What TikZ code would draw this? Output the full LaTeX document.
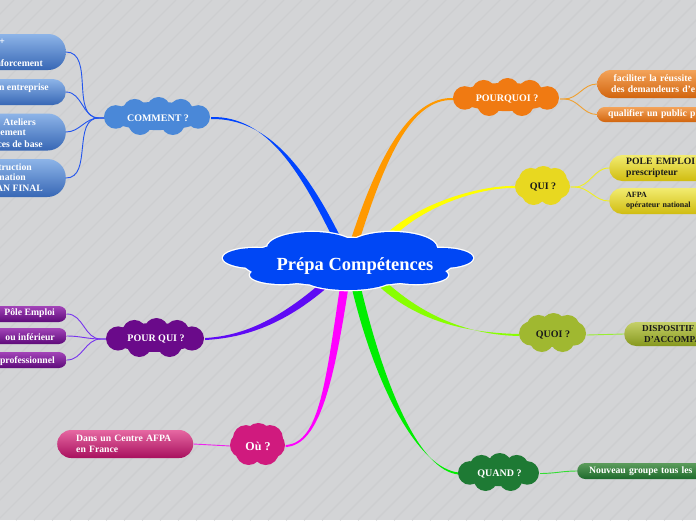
\documentclass[tikz,border=0pt]{standalone}
\usepackage{fontspec}
\setmainfont{Liberation Serif}
\usetikzlibrary{calc,shapes.geometric}
\pgfdeclarelayer{back}
\pgfsetlayers{back,main}
\definecolor{bgc}{HTML}{D3D4D6}
\definecolor{stripec}{HTML}{CDCED0}
\definecolor{rootc}{HTML}{0047F5}
\definecolor{commentc}{HTML}{4A88D8}
\definecolor{pourquic}{HTML}{6A0A8A}
\definecolor{ouc}{HTML}{D01A7E}
\definecolor{pourquoic}{HTML}{F07A12}
\definecolor{quic}{HTML}{E8D820}
\definecolor{quoic}{HTML}{A0B830}
\definecolor{quandc}{HTML}{1E7A34}
\definecolor{darktext}{HTML}{1A1A1A}
% branch colours
\definecolor{brblue}{HTML}{0044FF}
\definecolor{brorange}{HTML}{FF9900}
\definecolor{bryellow}{HTML}{FFFF00}
\definecolor{brlgreen}{HTML}{88FF00}
\definecolor{brgreen}{HTML}{00EE00}
\definecolor{brmagenta}{HTML}{FF00FF}
\definecolor{brpurple}{HTML}{5F0AF5}
% link colours
\definecolor{lkblue}{HTML}{2255EE}
\definecolor{lkpurple}{HTML}{7733EE}
\definecolor{lkmagenta}{HTML}{EE22EE}
\definecolor{lkorange}{HTML}{F0A030}
\definecolor{lkyellow}{HTML}{F0F020}
\definecolor{lklgreen}{HTML}{99EE33}
\definecolor{lkgreen}{HTML}{33DD33}
% leaf colours
\definecolor{blt}{HTML}{8DB4E8}\definecolor{blb}{HTML}{3767B5}
\definecolor{put}{HTML}{A244B8}\definecolor{pub}{HTML}{5E0A7A}
\definecolor{pkt}{HTML}{E668A2}\definecolor{pkb}{HTML}{A8105E}
\definecolor{ort}{HTML}{F3A35A}\definecolor{orb}{HTML}{D2650E}
\definecolor{yet}{HTML}{F2EC70}\definecolor{yeb}{HTML}{D0BC10}
\definecolor{olt}{HTML}{C5D068}\definecolor{olb}{HTML}{86981E}
\definecolor{grt}{HTML}{5C9C5C}\definecolor{grb}{HTML}{1D6A2C}

\newcommand\taperbranch[7]{%
  \fill[#1] ($#2+#6$) .. controls ($#3+#6$) and ($#4+#7$) .. ($#5+#7$)
    -- ($#5-#7$) .. controls ($#4-#7$) and ($#3-#6$) .. ($#2-#6$) -- cycle;}

% cloud made of puffs: colour, centre x, centre y, width, height
\newcommand\puffcloud[5]{%
  \begin{scope}[shift={(#2,#3)}]
    \pgfmathsetmacro\cloudA{#4/2}%
    \pgfmathsetmacro\cloudB{#5/2}%
    \pgfmathsetmacro\cloudR{0.62*\cloudB}%
    \fill[#1] (0,0) ellipse [x radius={\cloudA-0.35*\cloudR}, y radius={0.74*\cloudB}];
    \fill[#1] ({-(\cloudA-\cloudR)},{0.05*\cloudB}) circle [radius=\cloudR];
    \fill[#1] ({\cloudA-\cloudR},{0.05*\cloudB}) circle [radius=\cloudR];
    \fill[#1] ({-0.42*\cloudA},{-(\cloudB-\cloudR)+0.1*\cloudB}) circle [radius=\cloudR];
    \fill[#1] ({0.03*\cloudA},{-(\cloudB-\cloudR)}) circle [radius=\cloudR];
    \fill[#1] ({0.45*\cloudA},{-(\cloudB-\cloudR)+0.1*\cloudB}) circle [radius=\cloudR];
    \fill[#1] ({-0.32*\cloudA},{\cloudB-\cloudR}) circle [radius=\cloudR];
    \fill[#1] ({0.3*\cloudA},{\cloudB-\cloudR}) circle [radius=\cloudR];
  \end{scope}}

\newcommand\rootshape[1]{%
  \path[#1] (348,262) ellipse [x radius=105, y radius=24]
    (312,248) ellipse [x radius=45, y radius=16]
    (392,248) ellipse [x radius=45, y radius=16]
    (255,258) ellipse [x radius=32, y radius=10]
    (441,258) ellipse [x radius=32, y radius=10]
    (282,275) ellipse [x radius=32, y radius=9]
    (348,278) ellipse [x radius=45, y radius=12]
    (416,275) ellipse [x radius=32, y radius=9];}

\tikzset{
  cloudtext/.style={ellipse, inner sep=0pt, text=white, font=\bfseries\fontsize{10}{12}\selectfont},
  leafbox/.style 2 args={rectangle, top color=#1, bottom color=#2, draw=none},
  lt/.style={inner sep=0pt, text=white, font=\bfseries\fontsize{9.7}{11}\selectfont},
  lk/.style={draw=#1, line width=0.9pt},
  stripe/.style={stripec, line width=1.4pt},
}

\begin{document}
\begin{tikzpicture}[x=1pt,y=-1pt]
\useasboundingbox (0,0) rectangle (696,520);

% ---- clouds ----
\rootshape{draw=white, line width=2.6pt}
\rootshape{fill=rootc}
\node[cloudtext, minimum width=248, minimum height=58, font=\bfseries\fontsize{18.5}{20}\selectfont] (root) at (355,266) {Prépa Compétences};

\puffcloud{commentc}{157}{116}{106}{38}
\node[cloudtext, minimum width=106, minimum height=38] (comment) at (158,118) {COMMENT ?};
\puffcloud{pourquic}{155}{337.5}{98}{39}
\node[cloudtext, minimum width=98, minimum height=39] (pourqui) at (156,339) {POUR QUI ?};
\puffcloud{ouc}{257.5}{444}{55}{42}
\node[cloudtext, minimum width=55, minimum height=42, font=\bfseries\fontsize{12}{14}\selectfont] (ou) at (258,446) {Où ?};
\puffcloud{pourquoic}{506}{97}{106}{38}
\node[cloudtext, minimum width=106, minimum height=38] (pourquoi) at (507,99) {POURQUOI ?};
\puffcloud{quic}{542.5}{185.5}{55}{39}
\node[cloudtext, minimum width=55, minimum height=39, text=darktext] (qui) at (543,187) {QUI ?};
\puffcloud{quoic}{552.5}{332.5}{67}{39}
\node[cloudtext, minimum width=67, minimum height=39, text=darktext] (quoi) at (553,335) {QUOI ?};
\puffcloud{quandc}{498.5}{472}{81}{38}
\node[cloudtext, minimum width=81, minimum height=38] (quand) at (499.5,473.5) {QUAND ?};

% ---- left blue leaves ----
\node[leafbox={blt}{blb}, rounded corners=17.5, anchor=east, minimum width=200, minimum height=36] (c1) at (66,52) {};
\node[leafbox={blt}{blb}, rounded corners=13, anchor=east, minimum width=200, minimum height=26] (c2) at (66,92) {};
\node[leafbox={blt}{blb}, rounded corners=18, anchor=east, minimum width=200, minimum height=37] (c3) at (66,132) {};
\node[leafbox={blt}{blb}, rounded corners=18.5, anchor=east, minimum width=200, minimum height=38] (c4) at (66,178) {};
\node[lt, anchor=base east] (c1a) at (5,44.5) {+};
\node[lt, anchor=base east] (c1b) at (43,66.5) {nforcement};
\node[lt, anchor=base east] (c2a) at (49,90.3) {n entreprise};
\node[lt, anchor=base east] (c3a) at (36,125.3) {: Ateliers};
\node[lt, anchor=base east] (c3b) at (26,135.8) {cement};
\node[lt, anchor=base east] (c3c) at (43,147.3) {ces de base};
\node[lt, anchor=base east] (c4a) at (32,170.3) {truction};
\node[lt, anchor=base east] (c4b) at (26,180.8) {mation};
\node[lt, anchor=base east] (c4c) at (43,191.8) {AN FINAL};

% ---- left purple leaves ----
\node[leafbox={put}{pub}, rounded corners=8, anchor=east, minimum width=200, minimum height=16] (pq1) at (67,314) {};
\node[leafbox={put}{pub}, rounded corners=8, anchor=east, minimum width=200, minimum height=16] (pq2) at (67,336) {};
\node[leafbox={put}{pub}, rounded corners=8, anchor=east, minimum width=200, minimum height=16] (pq3) at (67,360) {};
\node[lt, anchor=base east] (pq1a) at (55,315.5) {Pôle Emploi};
\node[lt, anchor=base east] (pq2a) at (55,340.3) {ou inférieur};
\node[lt, anchor=base east] (pq3a) at (55,363.5) {professionnel};

% ---- Où leaf ----
\node[leafbox={pkt}{pkb}, lt, rounded corners=14, anchor=west, minimum width=136, minimum height=28,
  text width=98, inner xsep=19, align=left] (ou1) at (57,444) {Dans un Centre AFPA\\en France};

% ---- right leaves ----
\node[leafbox={ort}{orb}, lt, rounded corners=14, anchor=west, minimum width=150, minimum height=28,
  text width=140, inner xsep=14, align=left] (pw1) at (597,84) {\hspace*{2.5pt}faciliter la réussite\\des demandeurs d'e};
\node[leafbox={ort}{orb}, lt, rounded corners=7.5, anchor=west, minimum height=15,
  text width=140, inner xsep=11, align=left] (pw2) at (597,114.5) {qualifier un public p};
\node[leafbox={yet}{yeb}, lt, text=darktext, rounded corners=13, anchor=west, minimum height=26,
  text width=100, inner xsep=17, align=left] (qi1) at (609,168) {POLE EMPLOI\\prescripteur};
\node[leafbox={yet}{yeb}, lt, text=darktext, font=\bfseries\fontsize{8}{10}\selectfont, rounded corners=13, anchor=west, minimum height=26,
  text width=100, inner xsep=17, align=left] (qi2) at (609,201) {AFPA\\opérateur national};
\node[leafbox={olt}{olb}, lt, text=darktext, font=\bfseries\fontsize{9.2}{10.5}\selectfont, rounded corners=12, anchor=west, minimum height=24,
  text width=100, inner xsep=18, align=left] (qo1) at (624,334) {DISPOSITIF\\\hspace*{2pt}D'ACCOMPA};
\node[leafbox={grt}{grb}, lt, rounded corners=8, anchor=west, minimum height=16,
  text width=130, inner xsep=12, align=left] (qd1) at (577,471) {Nouveau groupe tous les};

% ---- background, branches and links ----
\begin{pgfonlayer}{back}
\fill[bgc] (0,0) rectangle (696,520);
\begin{scope}
\clip (0,0) rectangle (696,520);
\foreach \i in {-560,-542,...,700} \draw[stripe] (\i,520) -- ++(520,-520);
\end{scope}

\taperbranch{brblue}{(345,255)}{(305,170)}{(268,117)}{(comment.east)}{(3.4,-1.6)}{(0,1)}
\taperbranch{brorange}{(352,250)}{(380,160)}{(410,97)}{(pourquoi.west)}{(4,1.25)}{(0,1)}
\taperbranch{bryellow}{(375,255)}{(395,215)}{(470,186)}{(qui.west)}{(3.6,1.8)}{(0,1)}
\taperbranch{brlgreen}{(378,280)}{(420,320)}{(470,334)}{(quoi.west)}{(2.8,-2.9)}{(0,1)}
\taperbranch{brgreen}{(355,282)}{(380,390)}{(420,470)}{(quand.west)}{(4.4,-1)}{(0,1)}
\taperbranch{brmagenta}{(345,282)}{(330,380)}{(320,444)}{(ou.east)}{(4.15,0.6)}{(0,1)}
\taperbranch{brpurple}{(330,280)}{(280,325)}{(240,337)}{(pourqui.east)}{(2.5,2.8)}{(0,1)}

\foreach \l in {c1,c2,c3,c4}
  \draw[lk=lkblue] (comment.west) -- ++(-6,0) to[out=180,in=0] (\l.east);
\foreach \l in {pq1,pq2,pq3}
  \draw[lk=lkpurple] (pourqui.west) -- ++(-6,0) to[out=180,in=0] (\l.east);
\draw[lk=lkmagenta] (ou.west) -- (ou1.east);
\foreach \l in {pw1,pw2}
  \draw[lk=lkorange] (pourquoi.east) -- ++(4,0) to[out=0,in=180] (\l.west);
\foreach \l in {qi1,qi2}
  \draw[lk=lkyellow] (qui.east) -- ++(4,0) to[out=0,in=180] (\l.west);
\draw[lk=lklgreen] (quoi.east) -- (qo1.west);
\draw[lk=lkgreen] (quand.east) to[out=0,in=180] (qd1.west);
\end{pgfonlayer}
\end{tikzpicture}
\end{document}
